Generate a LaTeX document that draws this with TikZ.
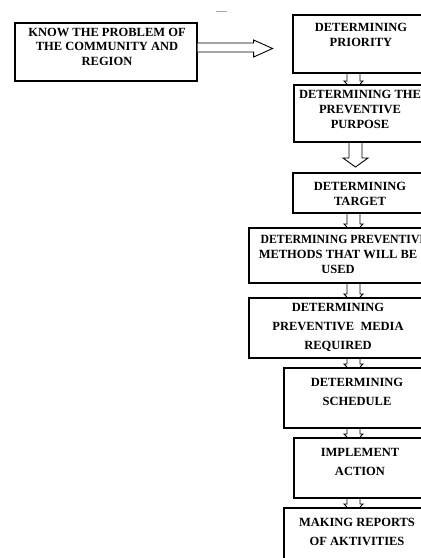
\documentclass[tikz,border=0pt]{standalone}
\usepackage{fontspec}
\setmainfont{Liberation Serif}
\usetikzlibrary{calc}
\pgfdeclarelayer{bg}
\pgfdeclarelayer{paper}
\pgfsetlayers{paper,bg,main}
\newcommand\smallconn[2]{%
  \begin{pgfonlayer}{bg}
  \draw[conn] (#1.south -| cl) -- ($(#2.north -| cl)+(0,-3)$) -- ++(-3,0)
    -- ($(#2.north -| cm)+(0,7)$) -- ($(#2.north -| cr)+(3,-3)$)
    -- ($(#2.north -| cr)+(0,-3)$) -- (#1.south -| cr);
  \end{pgfonlayer}}
\begin{document}
\begin{tikzpicture}[x=1pt,y=-1pt,
  box/.style={draw=black, line width=1.6pt, fill=white, inner sep=0pt, anchor=north west},
  txt/.style={font=\bfseries\fontsize{12.5}{15}\selectfont, align=center, anchor=north, inner sep=0pt},
  txtw/.style={font=\bfseries\fontsize{12.5}{19}\selectfont, align=center, anchor=north, inner sep=0pt},
  conn/.style={draw=black, line width=0.9pt, fill=white, line join=miter}]
\useasboundingbox (0,0) rectangle (421,558);
\clip (0,0) rectangle (421,558);
\begin{pgfonlayer}{paper}
\fill[white] (0,0) rectangle (421,558);
\end{pgfonlayer}
\coordinate (cl) at (347,0);
\coordinate (cm) at (353.5,0);
\coordinate (cr) at (360,0);
\coordinate (dm) at (355.5,0);
\coordinate (ma) at (216,11);
\coordinate (mb) at (227,11);
\draw[color={rgb,255:red,150;green,170;blue,190}, line width=1pt] (ma) -- (mb);

% boxes
\node[box, minimum width=182pt, minimum height=58pt] (k) at (14,22) {};
\node[box, minimum width=140pt, minimum height=58pt] (b1) at (292,14) {};
\node[box, minimum width=140pt, minimum height=57pt] (b2) at (293,84) {};
\node[box, minimum width=140pt, minimum height=40pt] (b3) at (292,172) {};
\node[box, minimum width=185pt, minimum height=55pt] (b4) at (248,227) {};
\node[box, minimum width=185pt, minimum height=60pt] (b5) at (248,297) {};
\node[box, minimum width=150pt, minimum height=60pt] (b6) at (283,367) {};
\node[box, minimum width=140pt, minimum height=60pt] (b7) at (293,437) {};
\node[box, minimum width=150pt, minimum height=60pt] (b8) at (283,507) {};

% texts
\node[txt, font=\bfseries\fontsize{12.5}{14.5}\selectfont] (tk) at (107,28) {KNOW THE PROBLEM OF\\THE COMMUNITY AND\\REGION};
\node[txt] (t1) at (361,23) {DETERMINING\\PRIORITY};
\node[txt] (t2) at (360,90) {DETERMINING THE\\PREVENTIVE\\PURPOSE};
\node[txt] (t3) at (360,182) {DETERMINING\\TARGET};
\node[txt] (t4) at (338,235) {\hspace*{6pt}\scalebox{0.94}[1]{DETERMINING PREVENTIVE}\hspace*{-6pt}\\METHODS THAT WILL BE\\USED};
\node[txtw] (t5) at (338,303) {DETERMINING\\PREVENTIVE\ \ MEDIA\\REQUIRED};
\node[txtw] (t6) at (357,378) {DETERMINING\\SCHEDULE};
\node[txtw] (t7) at (360,448) {IMPLEMENT\\ACTION};
\node[txtw] (t8) at (357,518) {MAKING REPORTS\\OF AKTIVITIES};

% big right arrow
\draw[conn] ($(k.north east)+(0,21)$) -- ($(k.north east)+(56,21)$) -- ($(k.north east)+(56,18)$)
  -- ($(k.north east)+(75,26.5)$) -- ($(k.north east)+(56,35)$) -- ($(k.north east)+(56,30)$)
  -- ($(k.north east)+(0,30)$);

% big down arrow
\begin{pgfonlayer}{bg}
\draw[conn] ($(b2.south -| dm)+(-6.5,0)$) -- ($(b3.north -| dm)+(-6.5,-14)$) -- ($(b3.north -| dm)+(-12.5,-14)$)
  -- ($(b3.north -| dm)+(0,-5)$) -- ($(b3.north -| dm)+(12.5,-14)$) -- ($(b3.north -| dm)+(6.5,-14)$)
  -- ($(b2.south -| dm)+(6.5,0)$);
\end{pgfonlayer}

\smallconn{b1}{b2}
\smallconn{b3}{b4}
\smallconn{b4}{b5}
\smallconn{b5}{b6}
\smallconn{b6}{b7}
\smallconn{b7}{b8}
\end{tikzpicture}
\end{document}
